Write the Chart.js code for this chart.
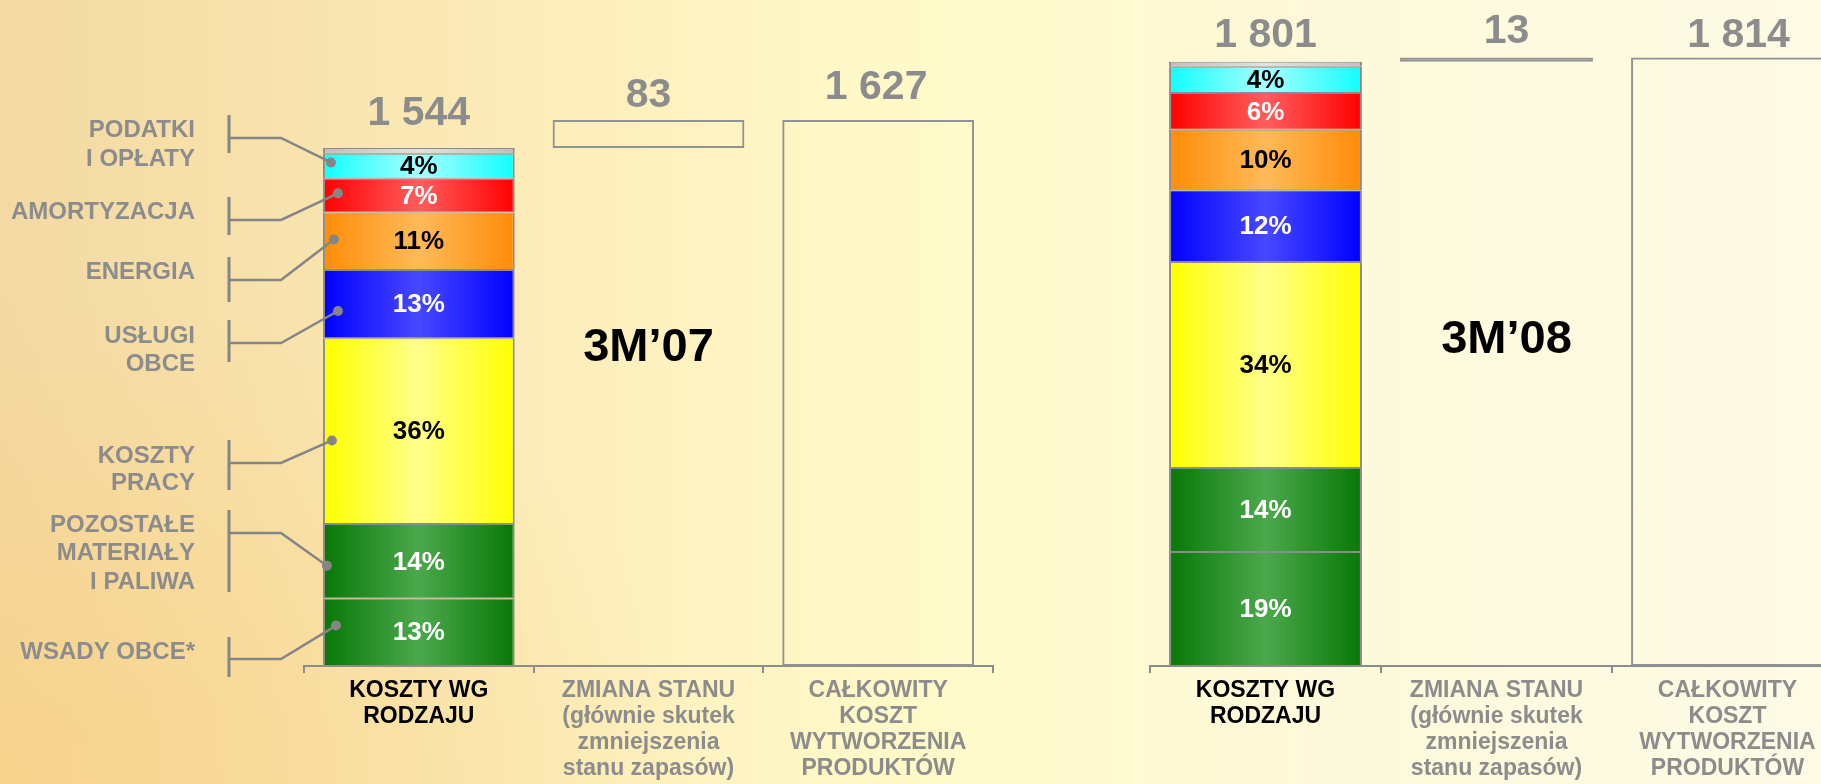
<!DOCTYPE html>
<html><head><meta charset="utf-8">
<script src="https://cdn.jsdelivr.net/npm/chart.js@4.4.1/dist/chart.umd.min.js"></script>
<style>
html,body{margin:0;padding:0;width:1821px;height:784px;overflow:hidden;}
body{position:relative;background:
 radial-gradient(ellipse 700px 500px at 0% 100%, rgba(250,205,120,0.55), rgba(250,205,120,0) 100%),
 linear-gradient(to right, #F3D9A4 0%, #F7E0AA 12%, #FCEDBA 30%, #FFF7C6 45%, #FFFBCC 55%, #FDF9DA 72%, #FDFBE6 100%);}
canvas{position:absolute;top:0;}
#c1{left:0;width:1080px;height:791px;}
#c2{left:1080px;width:800px;height:791px;}
</style></head><body>
<canvas id="c1" width="1080" height="791"></canvas>
<canvas id="c2" width="800" height="791"></canvas>
<script>
// ---- data ----
const categories = [["KOSZTY WG","RODZAJU"],["ZMIANA STANU","(głównie skutek","zmniejszenia","stanu zapasów)"],["CAŁKOWITY","KOSZT","WYTWORZENIA","PRODUKTÓW"]];
const costTypeLabels = [["WSADY OBCE*"],["POZOSTAŁE","MATERIAŁY","I PALIWA"],["KOSZTY","PRACY"],["USŁUGI","OBCE"],["ENERGIA"],["AMORTYZACJA"],["PODATKI","I OPŁATY"],["POZOSTAŁE"]];
const segments07 = [201,222,554,203,172,100,75,17];
const shares07 = ["13%","14%","36%","13%","11%","7%","4%",""];
const bridge07 = [1544,83,1627];
const segments08 = [340,250,614,214,180,110,78,15];
const shares08 = ["19%","14%","34%","12%","10%","6%","4%",""];
const bridge08 = [1801,13,1814];
const periods = ["3M’07","3M’08"];

// ---- styles ----
const FONT = "'Liberation Sans', Arial, Helvetica, sans-serif";
const GRAY = '#8C8C8C';
const BAR_PCT = 0.835;
const segStyle = [
 {edge:'#077807', mid:'#4CA84C', text:'#FFFFFF'},
 {edge:'#077807', mid:'#4CA84C', text:'#FFFFFF'},
 {edge:'#FFFF00', mid:'#FFFF8A', text:'#000000'},
 {edge:'#0000FF', mid:'#4848FF', text:'#FFFFFF'},
 {edge:'#FF8C08', mid:'#FFBA58', text:'#000000'},
 {edge:'#FF0000', mid:'#FF5E5E', text:'#FFFFFF'},
 {edge:'#10FFFF', mid:'#A8FFFF', text:'#000000'},
 {edge:'#BEBEBE', mid:'#E2E2E2', text:'#000000'}
];

function fmt(n){ return String(n).replace(/\B(?=(\d{3})+(?!\d))/g,' '); }

function hGrad(ctx, edge, mid){
  if (ctx.type !== 'data') return edge;
  const chart = ctx.chart, xs = chart.scales && chart.scales.x;
  if (!chart.chartArea || !xs) return edge;
  const cx = xs.getPixelForValue(ctx.dataIndex);
  const w = xs.width / categories.length * BAR_PCT;
  if (!isFinite(cx) || !isFinite(w)) return edge;
  const g = chart.ctx.createLinearGradient(cx - w/2, 0, cx + w/2, 0);
  g.addColorStop(0, edge); g.addColorStop(0.5, mid); g.addColorStop(1, edge);
  return g;
}

function buildDatasets(segments, bridge){
  const ds = [];
  let cum = 0;
  segments.forEach((v, i) => {
    const st = segStyle[i];
    ds.push({
      data: [[cum, cum + v], null, null],
      backgroundColor: ctx => hGrad(ctx, st.edge, st.mid),
      borderColor: GRAY,
      borderWidth: {top:1, bottom:1, left:2, right:2},
      borderSkipped: false, grouped: false,
      categoryPercentage: 1, barPercentage: BAR_PCT
    });
    cum += v;
  });
  const box = {backgroundColor:'rgba(0,0,0,0)', borderColor:'#929292', borderWidth:2, borderSkipped:false, grouped:false, categoryPercentage:1, barPercentage:BAR_PCT};
  ds.push(Object.assign({data:[null, [bridge[0], bridge[0] + bridge[1]], null]}, box));
  ds.push(Object.assign({data:[null, null, [0, bridge[2]]]}, box));
  return ds;
}

const labelPlugin = {
  id: 'bridgeLabels',
  afterDatasetsDraw(chart, args, o){
    const c = chart.ctx, n = o.shares.length;
    c.save();
    // callouts
    if (o.callouts){
      o.callouts.forEach((L, i) => {
        const el = chart.getDatasetMeta(i).data[0];
        const left = el.x - el.width/2;
        const top = Math.min(el.y, el.base), bot = Math.max(el.y, el.base);
        const dx = left + L.dx, dy = top + (bot - top) * L.f;
        c.strokeStyle = '#858585'; c.fillStyle = '#858585';
        c.lineWidth = 3;
        c.beginPath(); c.moveTo(o.bracketX, L.br[0]); c.lineTo(o.bracketX, L.br[1]); c.stroke();
        c.lineWidth = 2.5;
        c.beginPath(); c.moveTo(o.bracketX, L.h); c.lineTo(o.elbowX, L.h); c.lineTo(dx, dy); c.stroke();
        c.beginPath(); c.arc(dx, dy, 5, 0, Math.PI*2); c.fill();
        c.font = `bold 24px ${FONT}`; c.textAlign = 'right'; c.textBaseline = 'middle'; c.fillStyle = GRAY;
        costTypeLabels[i].forEach((t, j) => c.fillText(t, o.textX, L.lines[j]));
      });
    }
    // share labels
    c.textAlign = 'center'; c.textBaseline = 'middle';
    c.font = `bold 26px ${FONT}`;
    for (let i = 0; i < n; i++){
      if (!o.shares[i]) continue;
      const el = chart.getDatasetMeta(i).data[0];
      c.fillStyle = segStyle[i].text;
      c.fillText(o.shares[i], el.x, (el.y + el.base)/2 + 1);
    }
    // value labels
    c.font = `bold 41px ${FONT}`; c.fillStyle = GRAY; c.textBaseline = 'alphabetic';
    const tops = [chart.getDatasetMeta(n-1).data[0], chart.getDatasetMeta(n).data[1], chart.getDatasetMeta(n+1).data[2]];
    tops.forEach((el, k) => c.fillText(fmt(o.bridge[k]), el.x + o.valueDx[k], Math.min(el.y, el.base) - o.valueGap[k]));
    // period
    c.font = `bold 47px ${FONT}`; c.fillStyle = '#000'; c.textBaseline = 'middle';
    c.fillText(o.period, chart.scales.x.getPixelForValue(1) + o.periodDx, o.periodY);
    c.restore();
  }
};

function makeChart(id, segments, shares, bridge, period, pad, extra){
  return new Chart(document.getElementById(id), {
    type: 'bar',
    data: { labels: categories, datasets: buildDatasets(segments, bridge) },
    options: {
      responsive: false, animation: false, devicePixelRatio: 1,
      layout: { padding: pad },
      scales: {
        x: {
          offset: true,
          grid: { display: true, offset: true, drawOnChartArea: false, drawTicks: true, tickLength: 7, color: GRAY, lineWidth: 2 },
          border: { display: true, color: GRAY, width: 2 },
          ticks: { color: ctx => ctx.index === 0 ? '#000000' : GRAY, font: { family: FONT, size: 23, weight: 'bold', lineHeight: 1.13 }, padding: 5, maxRotation: 0, autoSkip: false }
        },
        y: { display: false, min: 0, max: 1985 }
      },
      plugins: {
        legend: { display: false }, tooltip: { enabled: false },
        bridgeLabels: Object.assign({ shares, bridge, period }, extra)
      }
    },
    plugins: [labelPlugin]
  });
}

makeChart('c1', segments07, shares07, bridge07, periods[0], {left:304, right:87, top:0, bottom:4}, {
  valueGap: [23, 13, 21], valueDx: [0, 0, -2], periodY: 348, periodDx: 0,
  bracketX: 229, elbowX: 281, textX: 195,
  callouts: [
    {lines:[652], br:[637,677], h:659, dx:13, f:0.4},
    {lines:[525,553,582], br:[510,592], h:533, dx:4, f:0.56},
    {lines:[456,483], br:[440,490], h:463, dx:9, f:0.55},
    {lines:[336,364], br:[320,362], h:343, dx:15, f:0.6},
    {lines:[272], br:[257,302], h:280, dx:11, f:0.47},
    {lines:[212], br:[197,235], h:220, dx:15, f:0.43},
    {lines:[130,159], br:[115,153], h:138, dx:8, f:0.35}
  ]
});
makeChart('c2', segments08, shares08, bridge08, periods[1], {left:70, right:37, top:0, bottom:4}, {
  valueGap: [15, 14, 10], valueDx: [0, 10, 11], periodY: 340, periodDx: 10
});
</script></body></html>
